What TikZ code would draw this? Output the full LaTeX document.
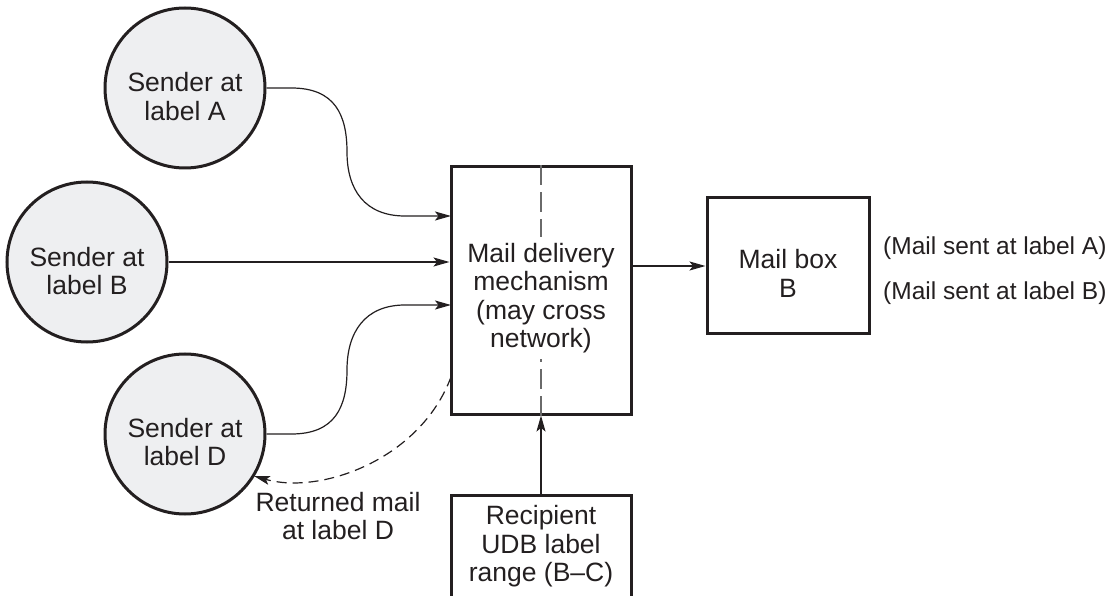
\documentclass[tikz,border=0pt]{standalone}
\usepackage{fontspec}
\setmainfont{Liberation Sans}
\usetikzlibrary{arrows.meta}
\definecolor{circfill}{HTML}{EEEFF1}
\definecolor{dashgray}{HTML}{6A6A6A}
\definecolor{ink}{HTML}{231F20}
\tikzset{
  sender/.style={circle, draw=ink, line width=3pt, fill=circfill, minimum size=160pt, inner sep=0pt},
  boxnode/.style={rectangle, draw=ink, line width=3pt, inner sep=0pt},
  plain/.style={align=center, text=ink, font=\fontsize{26.5}{28.5}\selectfont, inner sep=0pt},
  side/.style={anchor=west, text=ink, font=\fontsize{24.5}{28}\selectfont, inner sep=0pt},
  arr/.style={line width=1.2pt, draw=ink, -{Stealth[length=16pt,width=9pt,inset=3.5pt]}},
  retarr/.style={line width=1.2pt, draw=ink, dash pattern=on 10pt off 6pt, -{Stealth[length=16pt,width=9pt,inset=3.5pt]}},
  midline/.style={line width=1.8pt, draw=dashgray, dash pattern=on 20pt off 7pt}
}
\begin{document}
\begin{tikzpicture}[x=1pt,y=-1pt]
\useasboundingbox (0,0) rectangle (1112,596);
% senders
\node[sender] (sa) at (185,88) {};
\node[plain] (satext) at (185,96.5) {Sender at\\label A};
\node[sender] (sb) at (87,262) {};
\node[plain] (sbtext) at (87,271) {Sender at\\label B};
\node[sender] (sd) at (185,434) {};
\node[plain] (sdtext) at (185,442) {Sender at\\label D};
% mail delivery mechanism
\node[boxnode, minimum width=180pt, minimum height=247pt] (mdm) at (541,290.5) {};
\node[plain] (mdmtext) at (541,298) {Mail delivery\\mechanism\\(may cross\\network)};
\draw[midline] (mdm.north) -- ++(0,72);
\draw[midline] (mdm.south) -- ++(0,-57);
% mail box
\node[boxnode, minimum width=162pt, minimum height=136pt] (mb) at (788,266) {};
\node[plain] (mbtext) at (788,273.5) {Mail box\\B};
\node[side] (la) at (883,248) {(Mail sent at label A)};
\node[side] (lb) at (883,293) {(Mail sent at label B)};
% recipient
\node[boxnode, minimum width=180pt, minimum height=130pt, anchor=north] (rec) at (541,494) {};
\node[plain] (rectext) at (541,546.5) {Recipient\\UDB label\\range (B--C)};
% returned mail label
\node[plain] (ret) at (338,516) {Returned mail\\at label D};
% connection points
\coordinate (inA) at (451,216);
\coordinate (inD) at (451,305);
\coordinate (outR) at (451,377);
\coordinate (dR) at (254,476);
% connectors
\draw[arr] (sa.east) -- ++(25,0) .. controls (335,88) and (347,115) .. (347,152)
   .. controls (347,190) and (365,216) .. (405,216) -- (inA);
\draw[arr] (sb.east) -- (sb.east -| mdm.west);
\draw[arr] (sd.east) -- ++(25,0) .. controls (335,434) and (347,407) .. (347,370)
   .. controls (347,332) and (365,305) .. (405,305) -- (inD);
\draw[retarr] (outR) .. controls (420,460) and (320,495) .. (dR);
\draw[arr] (mdm.east |- mb.west) -- (mb.west);
\draw[arr] (rec.north) -- (mdm.south);
\end{tikzpicture}
\end{document}
